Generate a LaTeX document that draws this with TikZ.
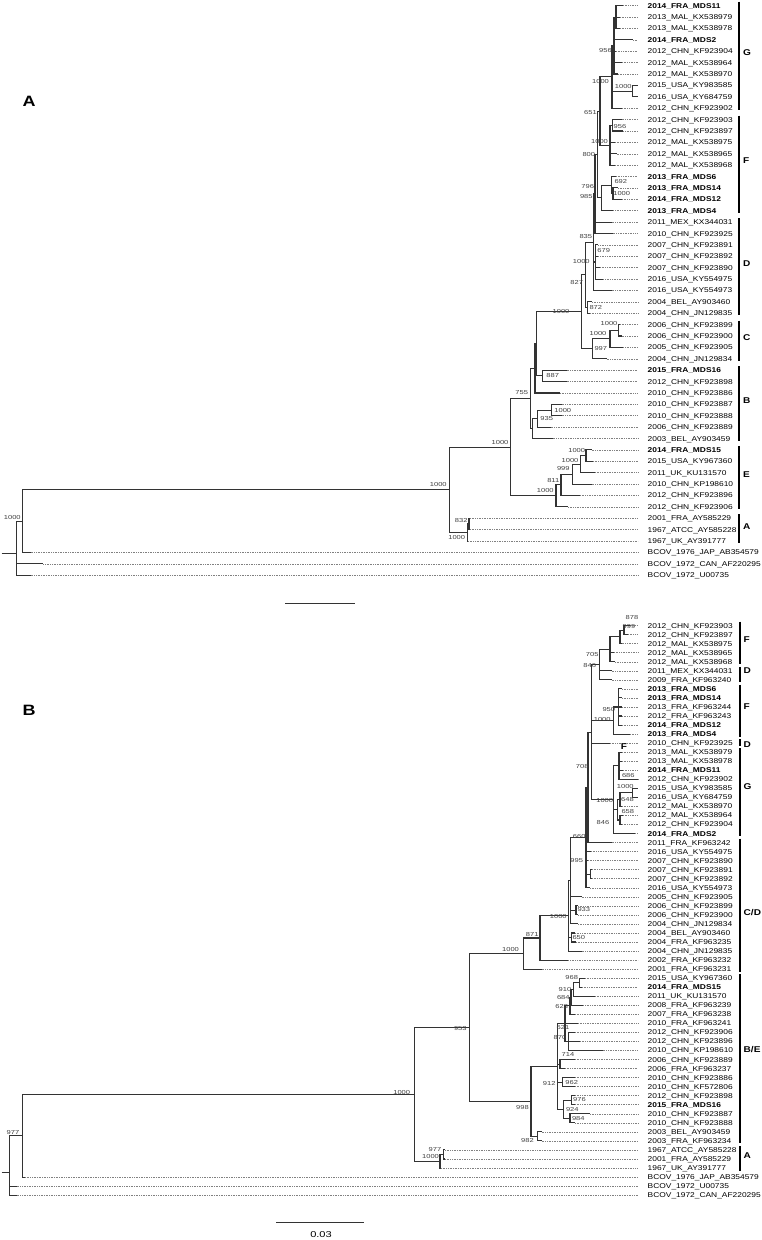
\documentclass[tikz,border=0pt]{standalone}
\usepackage{fontspec}
\setmainfont{Liberation Sans}
\newfontfamily\taxfont[FakeStretch=1.2]{Liberation Sans}
\newfontfamily\bootfont[FakeStretch=1.3]{Liberation Sans}
\usetikzlibrary{calc}

\tikzset{
  branch/.style={line width=1.1pt, black!80},
  leader/.style={line width=0.5pt, black!50, dash pattern=on 0.5pt off 1.2pt},
  taxon/.style={anchor=west, inner sep=0pt, text height=5pt, text depth=0pt,
    font=\taxfont\fontsize{7}{8}\selectfont},
  boot/.style={inner sep=0pt, black!75, font=\bootfont\fontsize{5.8}{6}\selectfont},
  cladebar/.style={line width=1.8pt, black},
  cladename/.style={anchor=west, inner sep=0pt, text height=6pt, text depth=0pt,
    font=\taxfont\bfseries\fontsize{8.4}{9}\selectfont},
  panel/.style={inner sep=0pt, font=\taxfont\bfseries\fontsize{15}{15}\selectfont},
  scalebar/.style={line width=1.1pt, black!80}
}

% internal node: name, x, first child, last child
\newcommand{\clade}[4]{%
  \coordinate (#1) at ($(#3)!0.5!(#4)$);
  \coordinate (#1) at (#2,0 |- #1);
  \draw[branch] (#1) |- (#3);
  \draw[branch] (#1) |- (#4);
}

\begin{document}
\begin{tikzpicture}[x=1pt, y=-1pt]
  \path[use as bounding box] (0,0) rectangle (762,1240);

  % ---------- tree A ----------
  \node[panel] (panelA) at (29,101) {A};
  \foreach \xe/\txt [count=\i from 0] in {
      623/\textbf{2014\_FRA\_MDS11}, 620/2013\_MAL\_KX538979,
      620/2013\_MAL\_KX538978, 633/\textbf{2014\_FRA\_MDS2},
      616/2012\_CHN\_KF923904, 622/2012\_MAL\_KX538964,
      618/2012\_MAL\_KX538970, 638/2015\_USA\_KY983585,
      638/2016\_USA\_KY684759, 622/2012\_CHN\_KF923902,
      621.7/2012\_CHN\_KF923903, 623.3/2012\_CHN\_KF923897,
      615/2012\_MAL\_KX538975, 616.7/2012\_MAL\_KX538965,
      615/2012\_MAL\_KX538968, 616/\textbf{2013\_FRA\_MDS6},
      618/\textbf{2013\_FRA\_MDS14}, 622/\textbf{2014\_FRA\_MDS12},
      613.3/\textbf{2013\_FRA\_MDS4}, 611.7/2011\_MEX\_KX344031,
      612.7/2010\_CHN\_KF923925, 598.3/2007\_CHN\_KF923891,
      598.3/2007\_CHN\_KF923892, 600/2007\_CHN\_KF923890,
      603.3/2016\_USA\_KY554975, 611.7/2016\_USA\_KY554973,
      592/2004\_BEL\_AY903460, 590/2004\_CHN\_JN129835,
      620/2006\_CHN\_KF923899, 621.7/2006\_CHN\_KF923900,
      623.3/2005\_CHN\_KF923905, 606.7/2004\_CHN\_JN129834,
      566.7/\textbf{2015\_FRA\_MDS16}, 566.7/2012\_CHN\_KF923898,
      560/2010\_CHN\_KF923886, 561.7/2010\_CHN\_KF923887,
      561.7/2010\_CHN\_KF923888, 550.7/2006\_CHN\_KF923889,
      552.7/2003\_BEL\_AY903459, 591.7/\textbf{2014\_FRA\_MDS15},
      593/2015\_USA\_KY967360, 595/2011\_UK\_KU131570,
      591.7/2010\_CHN\_KP198610, 580/2012\_CHN\_KF923896,
      568/2012\_CHN\_KF923906, 470/2001\_FRA\_AY585229,
      470/1967\_ATCC\_AY585228, 468/1967\_UK\_AY391777,
      30.7/BCOV\_1976\_JAP\_AB354579, 43.3/BCOV\_1972\_CAN\_AF220295,
      30.7/BCOV\_1972\_U00735}{
    \coordinate (a\i) at (\xe,{5.7+11.39*\i});
    \coordinate (ea\i) at (638,{5.7+11.39*\i});
    \node[taxon] (la\i) at (647.5,{5.7+11.39*\i}) {\txt};
    \draw[leader] (a\i) -- (ea\i);
  }

  \clade{aG3}{616}{a0}{a2} \draw[branch] (aG3) |- (a1);
  \clade{aG2}{614}{aG3}{a6}
  \foreach \c in {a3,a4,a5} \draw[branch] (aG2) |- (\c);
  \clade{aGu}{632.7}{a7}{a8}
  \clade{aG1}{612}{aG2}{a9} \draw[branch] (aG1) |- (aGu);
  \clade{aF956}{612.5}{a10}{a11}
  \clade{aFa}{610}{aF956}{a14}
  \foreach \c in {a12,a13} \draw[branch] (aFa) |- (\c);
  \clade{a651}{600}{aG1}{aFa}
  \clade{aF1000}{613}{a16}{a17}
  \clade{aF692}{611.5}{a15}{aF1000}
  \clade{aF985}{601.7}{aF692}{a18}
  \clade{a800}{597.5}{a651}{aF985}
  \clade{aD679}{595.5}{a21}{a24}
  \foreach \c in {a22,a23} \draw[branch] (aD679) |- (\c);
  \clade{a835}{595}{a800}{a20} \draw[branch] (a835) |- (a19);
  \clade{aD1000}{593.3}{a835}{a25} \draw[branch] (aD1000) |- (aD679);
  \clade{a872}{587.5}{a26}{a27}
  \clade{aDGF}{585.5}{aD1000}{a872}
  \clade{aC1}{618.3}{a28}{a29}
  \clade{aC2}{610}{aC1}{a30}
  \clade{aC3}{592.7}{aC2}{a31}
  \clade{aGFDC}{581.7}{aDGF}{aC3}
  \clade{aB887}{542.3}{a32}{a33}
  \clade{aY}{536.7}{aGFDC}{aB887}
  \clade{aX}{535}{aY}{a34}
  \clade{aB35}{551.7}{a35}{a36}
  \clade{aB935}{537.3}{aB35}{a37}
  \clade{aB2}{532.7}{aB935}{a38}
  \clade{a755}{530.7}{aX}{aB2}
  \clade{aE1c}{586}{a39}{a40}
  \clade{aE1b}{580.7}{aE1c}{a41}
  \clade{aE999}{572.5}{aE1b}{a42}
  \clade{aE811}{561}{aE999}{a43}
  \clade{aE}{556}{aE811}{a44}
  \clade{aAB}{510.7}{a755}{aE}
  \clade{aA832}{469}{a45}{a46}
  \clade{aA}{467.3}{aA832}{a47}
  \clade{aTop}{449.3}{aAB}{aA}
  \clade{aR1}{22.7}{aTop}{a48}
  \clade{aRoot}{16.7}{aR1}{a50} \draw[branch] (aRoot) |- (a49);
  \coordinate (aStub) at (1.7,553.3);
  \draw[branch] (aStub) -- (aStub -| aRoot);

  \foreach \x/\y/\v [count=\k] in {
      600.5/81.7/1000, 605.5/50.7/956, 623.3/86/1000, 590.5/112.7/651,
      620/126.7/956, 599.5/141.7/1000, 588.8/154.3/800, 620.8/181.7/692,
      621.7/193.3/1000, 587.7/186.7/796, 586.3/196/985, 585.8/236.7/835,
      603.7/250/679, 581.3/261/1000, 576.7/282.3/827, 595.8/307.3/872,
      561/311/1000, 609/323.3/1000, 598/333.3/1000, 600.8/348.3/997,
      552.7/375.7/887, 562.8/410/1000, 546.7/418.3/935, 521.7/392.7/755,
      500/442.3/1000, 576.7/450/1000, 570/460/1000, 563.3/468.3/999,
      553.3/480/811, 545.3/490.7/1000, 438.3/484.3/1000, 461.2/520/832,
      456.7/537.3/1000, 12.3/517.3/1000}
    \node[boot] (bsa\k) at (\x,\y) {\v};

  \foreach \f/\l/\n/\ly [count=\k] in {0/9/G/52.3, 10/18/F/160,
      19/27/D/263.3, 28/31/C/337.3, 32/38/B/400, 39/44/E/474.3,
      45/47/A/526.7}{
    \draw[cladebar] (739,{5.7+11.39*\f-4}) -- (739,{5.7+11.39*\l+2});
    \node[cladename] (cla\k) at (743,\ly) {\n};
  }

  \coordinate (sclA1) at (285,603.3);
  \coordinate (sclA2) at (355,603.3);
  \draw[scalebar] (sclA1) -- (sclA2);

  % ---------- tree B ----------
  \node[panel] (panelB) at (29,710) {B};
  \foreach \xe/\txt [count=\i from 0] in {
      630/2012\_CHN\_KF923903, 628/2012\_CHN\_KF923897,
      621.7/2012\_MAL\_KX538975, 614/2012\_MAL\_KX538965,
      615/2012\_MAL\_KX538968, 611.7/2011\_MEX\_KX344031,
      611.7/2009\_FRA\_KF963240, 622/\textbf{2013\_FRA\_MDS6},
      622/\textbf{2013\_FRA\_MDS14}, 622/2013\_FRA\_KF963244,
      622/2012\_FRA\_KF963243, 622/\textbf{2014\_FRA\_MDS12},
      630/\textbf{2013\_FRA\_MDS4}, 610/2010\_CHN\_KF923925,
      622/2013\_MAL\_KX538979, 622/2013\_MAL\_KX538978,
      623/\textbf{2014\_FRA\_MDS11}, 638.3/2012\_CHN\_KF923902,
      638/2015\_USA\_KY983585, 638/2016\_USA\_KY684759,
      622/2012\_MAL\_KX538970, 623/2012\_MAL\_KX538964,
      622/2012\_CHN\_KF923904, 635/\textbf{2014\_FRA\_MDS2},
      611.7/2011\_FRA\_KF963242, 591/2016\_USA\_KY554975,
      588/2007\_CHN\_KF923890, 592/2007\_CHN\_KF923891,
      592/2007\_CHN\_KF923892, 590/2016\_USA\_KY554973,
      581.7/2005\_CHN\_KF923905, 578/2006\_CHN\_KF923899,
      578/2006\_CHN\_KF923900, 578/2004\_CHN\_JN129834,
      575/2004\_BEL\_AY903460, 576/2004\_FRA\_KF963235,
      581.7/2004\_CHN\_JN129835, 568.3/2002\_FRA\_KF963232,
      541.7/2001\_FRA\_KF963231, 585/2015\_USA\_KY967360,
      582/\textbf{2014\_FRA\_MDS15}, 595/2011\_UK\_KU131570,
      583.3/2008\_FRA\_KF963239, 575/2007\_FRA\_KF963238,
      578/2010\_FRA\_KF963241, 575/2012\_CHN\_KF923906,
      580/2012\_CHN\_KF923896, 602.7/2010\_CHN\_KP198610,
      575/2006\_CHN\_KF923889, 565/2006\_FRA\_KF963237,
      575/2010\_CHN\_KF923886, 575/2010\_CHN\_KF572806,
      575/2012\_CHN\_KF923898, 575/\textbf{2015\_FRA\_MDS16},
      590/2010\_CHN\_KF923887, 575/2010\_CHN\_KF923888,
      541.7/2003\_BEL\_AY903459, 541.7/2003\_FRA\_KF963234,
      445/1967\_ATCC\_AY585228, 445/2001\_FRA\_AY585229,
      441/1967\_UK\_AY391777, 25/BCOV\_1976\_JAP\_AB354579,
      16.7/BCOV\_1972\_U00735, 16.7/BCOV\_1972\_CAN\_AF220295}{
    \coordinate (b\i) at (\xe,{625.6+9.04*\i});
    \coordinate (eb\i) at (638,{625.6+9.04*\i});
    \node[taxon] (lb\i) at (647.5,{625.6+9.04*\i}) {\txt};
    \draw[leader] (b\i) -- (eb\i);
  }

  \clade{b878}{624}{b0}{b1}
  \clade{b999}{620}{b878}{b2}
  \clade{b705}{610}{b999}{b4} \draw[branch] (b705) |- (b3);
  \clade{b846}{599.3}{b705}{b6} \draw[branch] (b846) |- (b5);
  \clade{bF950}{618.3}{b7}{b11}
  \foreach \c in {b8,b9,b10} \draw[branch] (bF950) |- (\c);
  \clade{bF1000}{613.3}{bF950}{b12}
  \clade{bGa}{619}{b14}{b17}
  \foreach \c in {b15,b16} \draw[branch] (bGa) |- (\c);
  \clade{bGu}{632.7}{b18}{b19}
  \clade{bGb}{620}{bGu}{b20}
  \clade{bGc}{620}{b21}{b22}
  \clade{bG1000}{617.3}{bGb}{bGc}
  \clade{bG846}{613.3}{bGa}{b23} \draw[branch] (bG846) |- (bG1000);
  \clade{b708}{591.7}{b846}{bG846}
  \foreach \c in {bF1000,b13} \draw[branch] (b708) |- (\c);
  \clade{b660}{588}{b708}{b24}
  \clade{b2728}{590.7}{b27}{b28}
  \clade{b995}{586}{b660}{b29}
  \foreach \c in {b25,b26,b2728} \draw[branch] (b995) |- (\c);
  \clade{bC933}{576}{b31}{b32}
  \clade{bX2}{570.5}{b995}{b33}
  \foreach \c in {b30,bC933} \draw[branch] (bX2) |- (\c);
  \clade{bC650}{571.7}{b34}{b35}
  \clade{b1000c}{568.5}{bX2}{b36} \draw[branch] (b1000c) |- (bC650);
  \clade{b871}{540}{b1000c}{b37}
  \clade{b1000b}{523.3}{b871}{b38}
  \clade{bE968}{579.3}{b39}{b40}
  \clade{bE910}{573.3}{bE968}{b41}
  \clade{bE684}{571}{bE910}{b42}
  \clade{bE623}{570}{bE684}{b43}
  \clade{bE870}{568.3}{b45}{b47} \draw[branch] (bE870) |- (b46);
  \clade{bEup}{565}{bE623}{bE870} \draw[branch] (bEup) |- (b44);
  \clade{bE714}{560}{b48}{b49}
  \clade{bE962}{562.7}{b50}{b51}
  \clade{bE976}{571.7}{b52}{b53}
  \clade{bE984}{570}{b54}{b55}
  \clade{bE924}{563.3}{bE976}{bE984}
  \clade{bE912}{557.3}{bEup}{bE924}
  \foreach \c in {bE714,bE962} \draw[branch] (bE912) |- (\c);
  \clade{bE982}{537.7}{b56}{b57}
  \clade{bE998}{531}{bE912}{bE982}
  \clade{b953}{469.3}{b1000b}{bE998}
  \clade{bA977}{443.3}{b58}{b59}
  \clade{bA}{440}{bA977}{b60}
  \clade{bR1000}{414.3}{b953}{bA}
  \clade{b977}{22.3}{bR1000}{b61}
  \clade{bRoot}{9.3}{b977}{b63} \draw[branch] (bRoot) |- (b62);
  \coordinate (bStub) at (1.7,1172.7);
  \draw[branch] (bStub) -- (bStub -| bRoot);

  \foreach \x/\y/\v [count=\k] in {
      632/617/878, 629/626/999, 592.2/654/705, 589.7/665/846,
      608.8/709.3/950, 602.2/719.3/1000, 582.2/766.7/708, 628.3/775/686,
      625.3/786.7/1000, 627.5/799.3/648, 604.7/800/1000, 627.8/811.7/658,
      603/822.7/846, 579.2/836.7/660, 576.7/860/995, 583.8/909.3/933,
      578.8/937.7/650, 558.3/916.7/1000, 532.2/934.7/871, 510.5/949.3/1000,
      460.3/1028.3/953, 401.7/1092.3/1000, 571.7/977.7/968, 565/989.3/910,
      563.3/997.7/684, 561.7/1006/623, 563/1027.3/621, 560/1037.3/870,
      568/1054.3/714, 549.2/1083.3/912, 571.7/1082.7/962, 579.5/1099.3/976,
      572.3/1109.3/924, 578.3/1118.3/984, 522.5/1107.3/998, 527.5/1140.7/982,
      435/1149.3/977, 430.5/1156.7/1000, 13/1132.3/977}
    \node[boot] (bsb\k) at (\x,\y) {\v};

  \foreach \f/\l/\n/\ly [count=\k] in {0/4/F/639, 5/6/D/670.7,
      7/12/F/706.7, 13/13/D/744, 14/23/G/786.7, 24/38/{C/D}/912,
      39/57/{B/E}/1049.7, 58/60/A/1155}{
    \draw[cladebar] (740,{625.6+9.04*\f-4}) -- (740,{625.6+9.04*\l+2.5});
    \node[cladename] (clb\k) at (743.5,\ly) {\n};
  }
  \node[cladename, anchor=center] (strayF) at (624,746.5) {F};

  \coordinate (sclB1) at (276,1222.7);
  \coordinate (sclB2) at (364,1222.7);
  \draw[scalebar] (sclB1) -- (sclB2);
  \node[inner sep=0pt, font=\bootfont\fontsize{8.5}{9}\selectfont]
    (sclBlab) at (321,1235) {0.03};
\end{tikzpicture}
\end{document}
